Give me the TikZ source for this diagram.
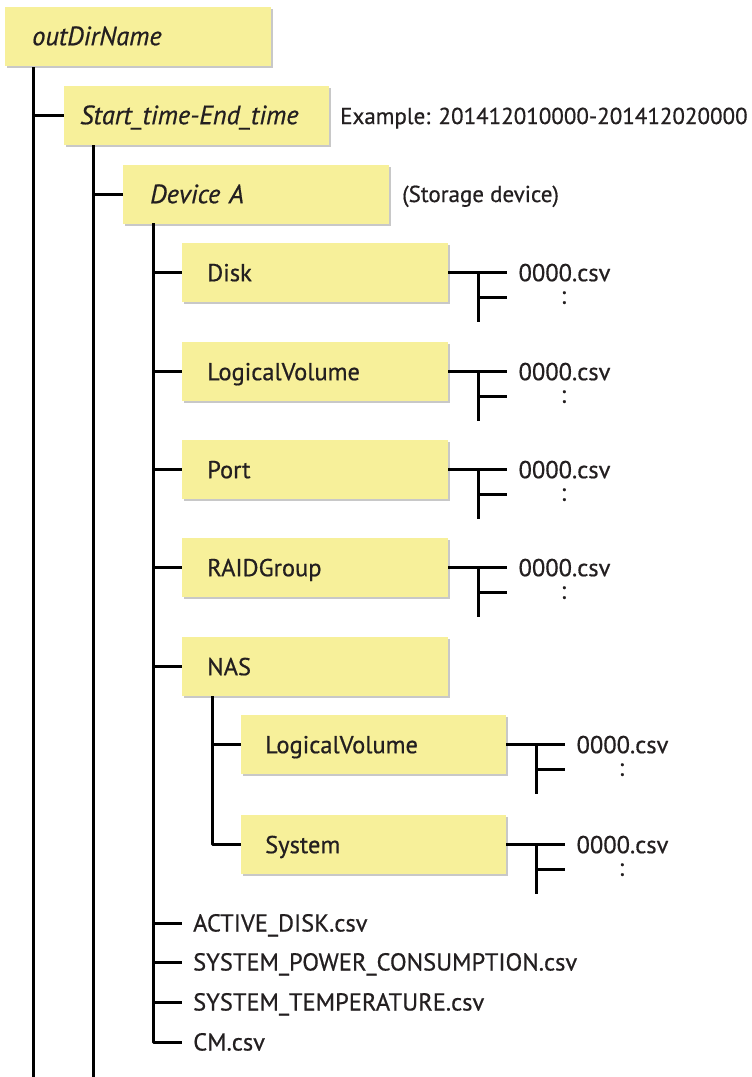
\documentclass[tikz,border=0pt]{standalone}
\usepackage{fontspec}
\setmainfont{PT Sans}[FakeBold=0.6]
\usetikzlibrary{shadows}
\definecolor{boxyellow}{HTML}{F7F09A}
\definecolor{ink}{HTML}{231F20}
\definecolor{shade}{HTML}{C8C8C8}
\begin{document}
\begin{tikzpicture}[x=1pt,y=-1pt,
  every node/.style={text=ink},
  box/.style={fill=boxyellow, drop shadow={shadow xshift=2pt, shadow yshift=-2pt, fill=shade, opacity=1},
    anchor=north west, minimum height=59pt, inner ysep=0pt, align=left,
    font=\fontsize{24.5}{28}\selectfont, text height=17pt, text depth=0pt},
  dirbox/.style={box, inner xsep=25pt, text width=216pt},
  ital/.style={font=\fontsize{26.5}{30}\selectfont\itshape},
  file/.style={anchor=west, inner xsep=0pt, inner ysep=0pt, font=\fontsize{24.5}{28}\selectfont, text height=17pt, text depth=0pt},
  note/.style={anchor=west, inner sep=0pt, font=\fontsize{23}{26}\selectfont, text height=16pt, text depth=0pt},
  dots/.style={inner sep=0pt, font=\fontsize{24.5}{28}\selectfont},
  conn/.style={line width=3pt, draw=black},
]
\useasboundingbox (0,0) rectangle (752,1077);
\coordinate (bottom) at (0,1077);

% boxes
\node[box, ital, inner xsep=27pt, text width=212pt] (root) at (5,7) {outDirName};
\node[box, ital, inner xsep=16pt, text width=233pt] (start) at (64,86) {Start\_time-End\_time};
\node[box, ital, inner xsep=27pt, text width=212pt] (devA) at (123,165) {Device A};
\node[dirbox] (disk) at (182,243) {Disk};
\node[dirbox] (lv) at (182,342) {LogicalVolume};
\node[dirbox] (port) at (182,440) {Port};
\node[dirbox] (raid) at (182,538) {RAIDGroup};
\node[dirbox] (nas) at (182,637) {NAS};
\node[box, inner xsep=24pt, text width=217pt] (naslv) at (241,715) {LogicalVolume};
\node[box, inner xsep=24pt, text width=217pt] (nassys) at (241,815) {System};

% notes
\node[note] (ex) at (340,116) {Example: 201412010000-201412020000};
\node[note] (sd) at (402,194) {(Storage device)};

% trunks
\coordinate (t1) at (33,67);
\coordinate (t2) at (93,145);
\coordinate (t3) at (153,223);
\coordinate (t4) at (212,696);

\draw[conn] (t1) -- (t1 |- bottom);
\draw[conn] (t1 |- start.west) -- (start.west);
\draw[conn] (t2) -- (t2 |- bottom);
\draw[conn] (t2 |- devA.west) -- (devA.west);

% bottom files
\node[file] (f1) at (193,923) {ACTIVE\_DISK.csv};
\node[file] (f2) at (193,962) {SYSTEM\_POWER\_CONSUMPTION.csv};
\node[file] (f3) at (193,1002) {SYSTEM\_TEMPERATURE.csv};
\node[file] (f4) at (193,1042) {CM.csv};

\draw[conn, line join=round, shorten >=11pt] (t3) -- (t3 |- f4) -- (f4.west);
\foreach \n in {disk,lv,port,raid,nas} \draw[conn] (t3 |- \n.west) -- (\n.west);
\foreach \n in {f1,f2,f3} \draw[conn, shorten >=11pt] (t3 |- \n.west) -- (\n.west);

\draw[conn, line join=round] (t4) -- (t4 |- nassys.west) -- (nassys.west);
\draw[conn] (t4 |- naslv.west) -- (naslv.west);

% csv sub-trees
\foreach \n in {disk,lv,port,raid,naslv,nassys} {
  \node[file] (\n csv) at ([xshift=70pt]\n.east) {0000.csv};
  \node[dots] (\n dots) at ([xshift=115pt,yshift=-25pt]\n.east) {:};
  \coordinate (\n a) at ([xshift=30pt]\n.east);
  \coordinate (\n b) at ([xshift=30pt,yshift=-49pt]\n.east);
  \draw[conn, shorten >=11pt] (\n.east) -- (\n csv.west);
  \draw[conn] (\n a) -- (\n b);
  \draw[conn, shorten >=11pt] (\n a |- \n dots) -- (\n csv.west |- \n dots);
}
\end{tikzpicture}
\end{document}
